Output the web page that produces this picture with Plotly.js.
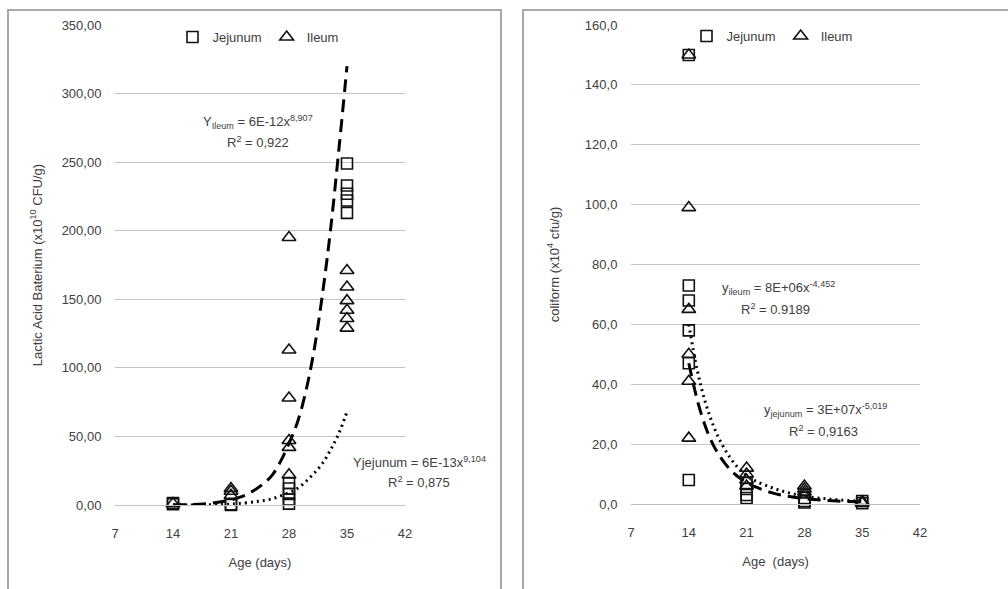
<!DOCTYPE html>
<html>
<head>
<meta charset="utf-8">
<script src="https://cdn.plot.ly/plotly-3.0.1.min.js"></script>
<style>html,body{margin:0;padding:0;background:#fff;}#chart{width:1008px;height:589px;}</style>
</head>
<body>
<div id="chart"></div>
<script>
// ---------- Left chart: Lactic Acid Bacterium ----------
const labJejunumX = [14, 14, 21, 21, 28, 28, 28, 28, 28, 35, 35, 35, 35, 35];
const labJejunumY = [0.5, 1.5, 0, 0.5, 16, 12, 8, 4, 1, 249, 233, 227, 222, 213];
const labIleumX = [14, 21, 21, 21, 28, 28, 28, 28, 28, 28, 35, 35, 35, 35, 35, 35];
const labIleumY = [1, 12, 10, 7, 195, 113, 78, 47, 42, 22, 171, 159, 149, 142, 136, 129];
// trend lines
const labIleumTrendX = [14, 16, 18, 20, 21, 22, 23, 24, 25, 26, 27, 28, 29, 30, 31, 32, 33, 34, 35];
const labIleumTrendY = [0.1, 0.3, 1, 2.5, 3.6, 5.5, 8, 11.5, 16, 22, 32, 45, 60, 82, 112, 152, 200, 258, 320];
const labJejTrendX = [14, 16, 18, 20, 21, 22, 24, 26, 28, 29, 30, 31, 32, 33, 34, 35];
const labJejTrendY = [0, 0.05, 0.2, 0.5, 0.7, 1.1, 2.4, 4.6, 9, 12, 17, 23, 30, 40, 52, 68];
const labYTicks = [0, 50, 100, 150, 200, 250, 300, 350];
const labYTickText = ["0,00", "50,00", "100,00", "150,00", "200,00", "250,00", "300,00", "350,00"];

// ---------- Right chart: coliform ----------
const colJejunumX = [14, 14, 14, 14, 14, 14, 21, 21, 21, 21, 28, 28, 28, 35, 35];
const colJejunumY = [150, 73, 68, 58, 47, 8, 7, 5, 3, 2, 2, 1, 0.5, 1, 0.3];
const colIleumX = [14, 14, 14, 14, 14, 14, 21, 21, 21, 21, 28, 28, 28, 28, 35, 35];
const colIleumY = [150, 99, 65, 50, 41, 22, 12, 10, 8, 6, 6, 5, 4, 3, 0.8, 0.3];
const colJejTrendX = [14, 15, 16, 17, 18, 19, 20, 21, 22, 24, 26, 28, 30, 32, 35];
const colJejTrendY = [60, 45, 34, 26, 20, 15.5, 12, 9.5, 7.8, 5.5, 3.8, 2.6, 1.9, 1.4, 0.9];
const colIleumTrendX = [14, 15, 16, 17, 18, 19, 20, 21, 22, 24, 26, 28, 30, 32, 35];
const colIleumTrendY = [47, 35, 26, 19.5, 15, 11.5, 9, 7.2, 5.8, 3.8, 2.6, 1.8, 1.3, 1.0, 0.7];
const colYTicks = [0, 20, 40, 60, 80, 100, 120, 140, 160];
const colYTickText = ["0,0", "20,0", "40,0", "60,0", "80,0", "100,0", "120,0", "140,0", "160,0"];

const xTicks = [7, 14, 21, 28, 35, 42];

const W = 1008, H = 589;
const px = v => v / W;
const py = v => (H - v) / H;
const FONT = "Liberation Sans, Arial, sans-serif";
const TXT = "#404040";

const sqMarker = {symbol: "square-open", size: 11, color: "#111", line: {width: 1.6, color: "#111"}};
const triMarker = {symbol: "triangle-up-open", size: 12, color: "#111", line: {width: 1.6, color: "#111"}};

const traces = [
  {x: labIleumTrendX, y: labIleumTrendY, xaxis: "x", yaxis: "y", mode: "lines", line: {color: "#000", width: 3, dash: "13px,7px", shape: "spline"}, showlegend: false, cliponaxis: false},
  {x: labJejTrendX, y: labJejTrendY, xaxis: "x", yaxis: "y", mode: "lines", line: {color: "#000", width: 3, dash: "2px,4px", shape: "spline"}, showlegend: false, cliponaxis: false},
  {x: labJejunumX, y: labJejunumY, xaxis: "x", yaxis: "y", mode: "markers", name: "Jejunum", marker: sqMarker, legend: "legend", cliponaxis: false},
  {x: labIleumX, y: labIleumY, xaxis: "x", yaxis: "y", mode: "markers", name: "Ileum", marker: triMarker, legend: "legend", cliponaxis: false},

  {x: colIleumTrendX, y: colIleumTrendY, xaxis: "x2", yaxis: "y2", mode: "lines", line: {color: "#000", width: 3, dash: "13px,7px", shape: "spline"}, showlegend: false, cliponaxis: false},
  {x: colJejTrendX, y: colJejTrendY, xaxis: "x2", yaxis: "y2", mode: "lines", line: {color: "#000", width: 3, dash: "2px,4px", shape: "spline"}, showlegend: false, cliponaxis: false},
  {x: colJejunumX, y: colJejunumY, xaxis: "x2", yaxis: "y2", mode: "markers", name: "Jejunum", marker: sqMarker, legend: "legend2", cliponaxis: false},
  {x: colIleumX, y: colIleumY, xaxis: "x2", yaxis: "y2", mode: "markers", name: "Ileum", marker: triMarker, legend: "legend2", cliponaxis: false}
];

const xBase = {
  range: [7, 42], tickmode: "array", tickvals: xTicks, ticktext: xTicks.map(String),
  showgrid: false, zeroline: false, showline: true, linecolor: "#bfbfbf", linewidth: 1,
  ticks: "outside", ticklen: 16, tickcolor: "rgba(0,0,0,0)",
  tickfont: {family: FONT, size: 13, color: TXT}, fixedrange: true
};
const yBase = {
  showgrid: true, gridcolor: "#c4c4c4", gridwidth: 1, zeroline: false, showline: false,
  ticks: "outside", ticklen: 10, tickcolor: "rgba(0,0,0,0)",
  tickfont: {family: FONT, size: 13, color: TXT}, tickmode: "array", fixedrange: true
};

const layout = {
  width: W, height: H,
  margin: {l: 0, r: 0, t: 0, b: 0},
  paper_bgcolor: "#fff", plot_bgcolor: "#fff",
  font: {family: FONT, color: TXT},
  xaxis: Object.assign({}, xBase, {domain: [px(115), px(405)], anchor: "y",
    title: {text: "Age (days)", font: {family: FONT, size: 13, color: TXT}, standoff: 18}}),
  yaxis: Object.assign({}, yBase, {domain: [py(505), py(25)], anchor: "x", range: [0, 350],
    tickvals: labYTicks, ticktext: labYTickText,
    title: {text: "Lactic Acid Baterium (x10<sup>10</sup> CFU/g)", font: {family: FONT, size: 13, color: TXT}, standoff: 16}}),
  xaxis2: Object.assign({}, xBase, {domain: [px(631), px(920)], anchor: "y2",
    title: {text: "Age  (days)", font: {family: FONT, size: 13, color: TXT}, standoff: 18}}),
  yaxis2: Object.assign({}, yBase, {domain: [py(504), py(25)], anchor: "x2", range: [0, 160],
    tickvals: colYTicks, ticktext: colYTickText,
    title: {text: "coliform (x10<sup>4</sup> cfu/g)", font: {family: FONT, size: 13, color: TXT}, standoff: 22}}),
  legend: {orientation: "h", x: px(258), xanchor: "center", y: py(37), yanchor: "middle",
    font: {family: FONT, size: 13, color: TXT}, bgcolor: "rgba(0,0,0,0)", itemwidth: 30, tracegroupgap: 0},
  legend2: {orientation: "h", x: px(772), xanchor: "center", y: py(36), yanchor: "middle",
    font: {family: FONT, size: 13, color: TXT}, bgcolor: "rgba(0,0,0,0)", itemwidth: 30, tracegroupgap: 0},
  shapes: [
    {type: "rect", xref: "paper", yref: "paper", x0: px(8), x1: px(501), y0: -0.05, y1: py(10), line: {color: "#a8a8a8", width: 2}},
    {type: "rect", xref: "paper", yref: "paper", x0: px(523), x1: 1.05, y0: -0.05, y1: py(10), line: {color: "#a8a8a8", width: 2}}
  ],
  annotations: [
    {xref: "paper", yref: "paper", x: px(258), y: py(122), xanchor: "center", yanchor: "middle", showarrow: false,
     text: "Y<sub>Ileum</sub> = 6E-12x<sup>8,907</sup>", font: {family: FONT, size: 13, color: TXT}},
    {xref: "paper", yref: "paper", x: px(258), y: py(142), xanchor: "center", yanchor: "middle", showarrow: false,
     text: "R<sup>2</sup> = 0,922", font: {family: FONT, size: 13, color: TXT}},
    {xref: "paper", yref: "paper", x: px(419), y: py(462), xanchor: "center", yanchor: "middle", showarrow: false,
     text: "Yjejunum = 6E-13x<sup>9,104</sup>", font: {family: FONT, size: 13, color: TXT}},
    {xref: "paper", yref: "paper", x: px(419), y: py(482), xanchor: "center", yanchor: "middle", showarrow: false,
     text: "R<sup>2</sup> = 0,875", font: {family: FONT, size: 13, color: TXT}},
    {xref: "paper", yref: "paper", x: px(778), y: py(288), xanchor: "center", yanchor: "middle", showarrow: false,
     text: "y<sub>ileum</sub> = 8E+06x<sup>-4,452</sup>", font: {family: FONT, size: 13, color: TXT}},
    {xref: "paper", yref: "paper", x: px(775), y: py(309), xanchor: "center", yanchor: "middle", showarrow: false,
     text: "R<sup>2</sup> = 0.9189", font: {family: FONT, size: 13, color: TXT}},
    {xref: "paper", yref: "paper", x: px(825), y: py(410), xanchor: "center", yanchor: "middle", showarrow: false,
     text: "y<sub>jejunum</sub> = 3E+07x<sup>-5,019</sup>", font: {family: FONT, size: 13, color: TXT}},
    {xref: "paper", yref: "paper", x: px(823), y: py(431), xanchor: "center", yanchor: "middle", showarrow: false,
     text: "R<sup>2</sup> = 0,9163", font: {family: FONT, size: 13, color: TXT}}
  ]
};

Plotly.newPlot("chart", traces, layout, {staticPlot: true, displayModeBar: false});
</script>
</body>
</html>
